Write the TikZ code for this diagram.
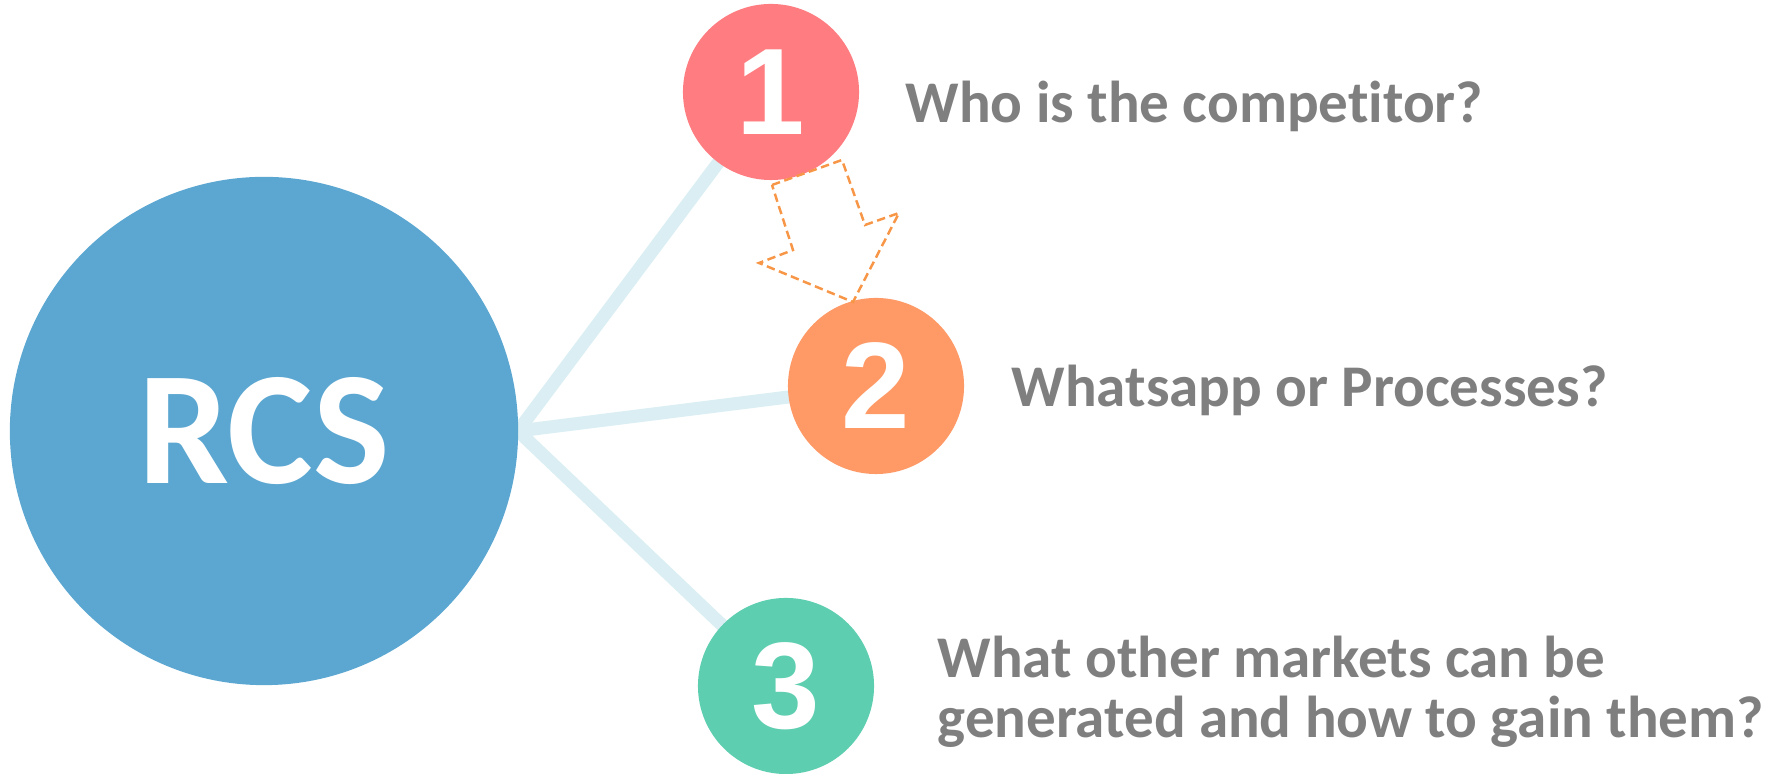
\documentclass[tikz,border=0pt]{standalone}
\usepackage{fontspec}
\setmainfont{Carlito}[Ligatures=NoCommon]
\newfontfamily\numfont{Liberation Sans}
\usepackage{tikz}

\definecolor{rcsblue}{HTML}{5BA7D1}
\definecolor{qred}{HTML}{FF7C80}
\definecolor{qorange}{HTML}{FF9966}
\definecolor{qgreen}{HTML}{5ECEB0}
\definecolor{spoke}{HTML}{DAEEF3}
\definecolor{qgray}{HTML}{7F7F7F}
\definecolor{arrowline}{HTML}{F79646}

\begin{document}
\begin{tikzpicture}[
		x=0.01cm, y=-0.01cm,
		every node/.style={circle, minimum size=1.76cm, inner sep=0pt, text=white},
		numlabel/.style={font=\numfont\bfseries\fontsize{35}{35}\selectfont},
		question/.style={rectangle, minimum size=0pt, anchor=base west, align=left, text=qgray,
			font=\bfseries\fontsize{16.8}{17.2}\selectfont}
	]
  \useasboundingbox (0,0) rectangle (1775,774);
  \coordinate (hub) at (518,431);
  \draw [spoke, line width=3.7pt] (hub) -- (771,92);
  \draw [spoke, line width=3.7pt] (hub) -- (876,386);
  \draw [spoke, line width=3.7pt] (hub) -- (786,686);
  \node (rcs) [fill=rcsblue, minimum size=5.08cm, font=\bfseries\fontsize{46}{46}\selectfont] at (264,431) {RCS};
  \node (q_1) [fill=qred, numlabel] at (771,92) {1};
  \node (q_2) [fill=qorange, numlabel] at (876,386) {2};
  \node (q_3) [fill=qgreen, numlabel] at (786,686) {3};
  \node (t_1) [question] at (905,123) {Who is the competitor?};
  \node (t_2) [question] at (1011,407) {Whatsapp or Processes?};
  \node (t_3) [question] at (937,738) {What other markets can be\\generated and how to gain them?};
  % hollow block arrow from 1 down to 2
  \draw [arrowline, dashed, line width=0.7pt, dash pattern=on 2.4pt off 1.3pt]
    (772,185) -- (842,160) -- (865,225) -- (899,213) -- (853,302) -- (759,263) -- (793,250) -- cycle;
\end{tikzpicture}
\end{document}
